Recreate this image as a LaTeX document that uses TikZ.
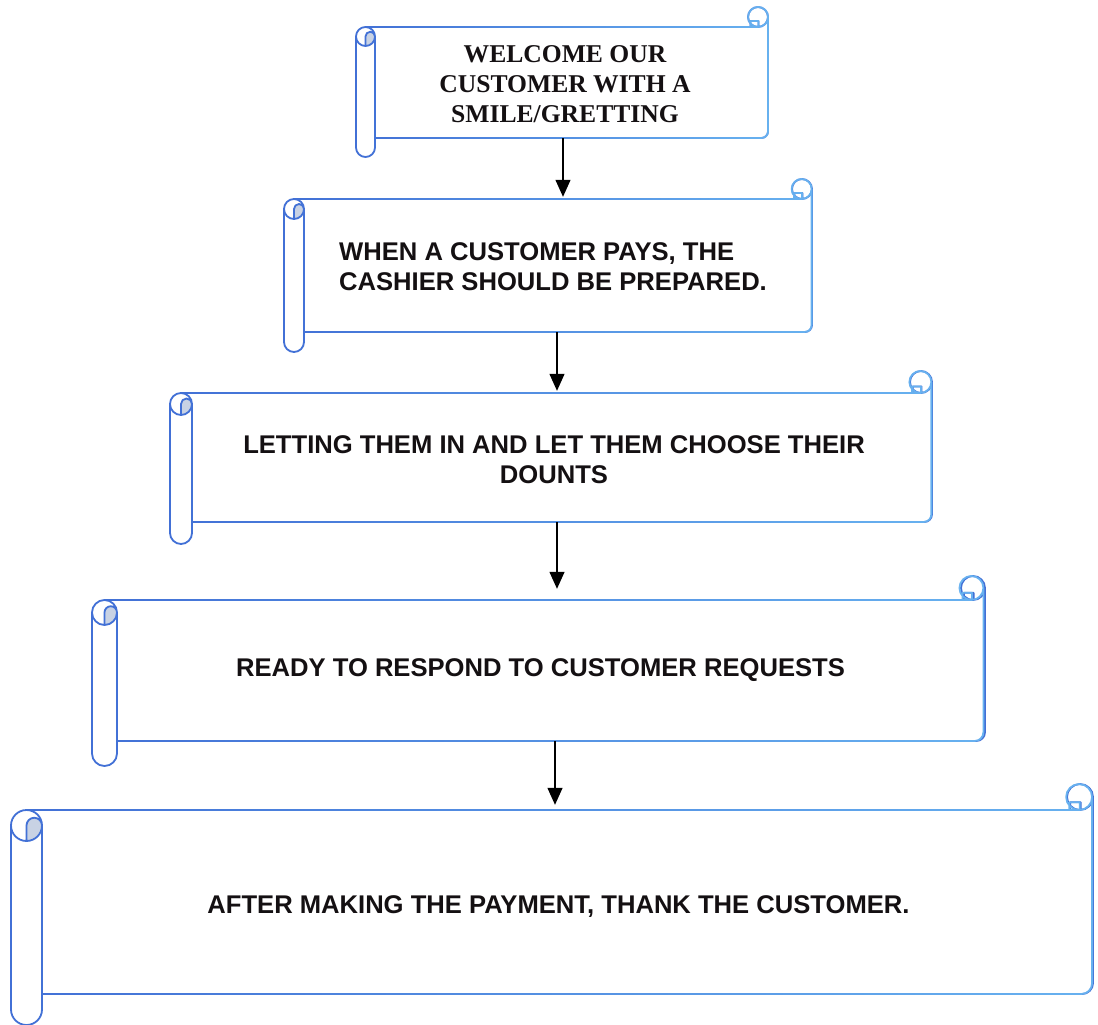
\documentclass[tikz,border=0pt]{standalone}
\usepackage{fontspec}
\setmainfont{Liberation Serif}
\newfontfamily\headsans{Liberation Sans}
\usetikzlibrary{arrows.meta,fadings,fit}

\definecolor{rolldark}{RGB}{66,112,214}
\definecolor{rolllight}{RGB}{104,178,240}
\definecolor{curlfill}{RGB}{200,210,228}
\definecolor{inktext}{RGB}{20,16,18}

\tikzfading[name=scrollfade, left color=transparent!100, right color=transparent!0]

\tikzset{
  scrollline/.style={line width=1.8pt, line join=round, line cap=round},
  arr/.style={-{Triangle[length=17pt,width=15pt]}, line width=1.3pt, black},
  serifbox/.style={font=\fontsize{25.6}{30}\selectfont\bfseries, text=inktext, inner sep=0pt, align=center},
  sansbox/.style={font=\headsans\fontsize{25.6}{30}\selectfont\bfseries, text=inktext, inner sep=0pt, align=center},
}

% inner curl of the left roll
\newcommand\blobpath{(\sLh,-\sTh) arc[start angle=180,end angle=0,radius=\sq pt]
  arc[start angle=0,end angle=-90,radius=\sh pt] -- cycle}

% complete outline of a horizontal scroll
\newcommand\scrollgeom{%
  (\sL,-\sTh) -- (\sL,-\sBh) arc[start angle=180,end angle=360,radius=\sh pt] -- (\sLw,-\sTh)
  (\sLh,-\sTh) circle[radius=\sh pt]
  (\sLh,-\sT) -- (\sRc,-\sT)
  (\sLw,-\sB) -- (\sRr,-\sB) arc[start angle=270,end angle=360,radius=\sr pt] -- (\sR,-\sTc)
  (\sRc,-\sTc) circle[radius=\sc pt]
  (\sRa,-\sT) rectangle (\sRb,-\sTd)
  \blobpath}

% #1 left, #2 top, #3 right, #4 bottom, #5 roll width, #6 curl radius, #7 name
\newcommand\drawscroll[7]{%
  \pgfmathsetmacro\sL{#1}\pgfmathsetmacro\sT{#2}%
  \pgfmathsetmacro\sR{#3}\pgfmathsetmacro\sB{#4}%
  \pgfmathsetmacro\sh{#5/2}\pgfmathsetmacro\sq{#5/4}%
  \pgfmathsetmacro\sc{#6}\pgfmathsetmacro\sr{0.35*#5}%
  \pgfmathsetmacro\sLh{#1+#5/2}\pgfmathsetmacro\sLw{#1+#5}%
  \pgfmathsetmacro\sTh{#2+#5/2}\pgfmathsetmacro\sBh{#4+#5/2}%
  \pgfmathsetmacro\sRc{#3-#6}\pgfmathsetmacro\sTc{#2-#6}%
  \pgfmathsetmacro\sRr{#3-0.35*#5}%
  \pgfmathsetmacro\sRa{#3-1.75*#6}\pgfmathsetmacro\sRb{#3-0.95*#6}%
  \pgfmathsetmacro\sTd{#2-0.6*#6}%
  \fill[curlfill] \blobpath;
  \draw[rolldark, scrollline] \scrollgeom;
  \draw[rolllight, scrollline, path fading=scrollfade] \scrollgeom;
  \node[fit={(\sL,-\sT) (\sR,-\sB)}, inner sep=0pt] (#7) {};
}

\begin{document}
\begin{tikzpicture}[x=1pt,y=1pt]
  \fill[white] (0,0) rectangle (1098,-1025);
  \useasboundingbox (0,0) rectangle (1098,-1025);

  \drawscroll{356}{27}{768}{138}{19}{10}{s1}
  \drawscroll{284}{199}{812}{332}{20}{10}{s2}
  \drawscroll{170}{393}{932}{522}{22}{11}{s3}
  \drawscroll{92}{600}{985}{741}{25}{12}{s4}
  \drawscroll{11}{810}{1093}{994}{31}{13}{s5}

  \node[serifbox] (t1) at (565,-84) {WELCOME OUR\\CUSTOMER WITH A\\SMILE/GRETTING};
  \node[sansbox, anchor=west, align=left] (t2) at (339,-267) {WHEN A CUSTOMER PAYS, THE\\CASHIER SHOULD BE PREPARED.};
  \node[sansbox] (t3) at (554,-460) {LETTING THEM IN AND LET THEM CHOOSE THEIR\\DOUNTS};
  \node[sansbox] (t4) at (540.5,-670) {READY TO RESPOND TO CUSTOMER REQUESTS};
  \node[sansbox] (t5) at (558.5,-907) {AFTER MAKING THE PAYMENT, THANK THE CUSTOMER.};

  \draw[arr, shorten >=2pt] ([xshift=1pt]s1.south) -- ([xshift=1pt]s1.south |- s2.north);
  \draw[arr, shorten >=2pt] ([xshift=9pt]s2.south) -- ([xshift=9pt]s2.south |- s3.north);
  \draw[arr, shorten >=11pt] ([xshift=6pt]s3.south) -- ([xshift=6pt]s3.south |- s4.north);
  \draw[arr, shorten >=5pt] ([xshift=16.5pt]s4.south) -- ([xshift=16.5pt]s4.south |- s5.north);
\end{tikzpicture}
\end{document}
